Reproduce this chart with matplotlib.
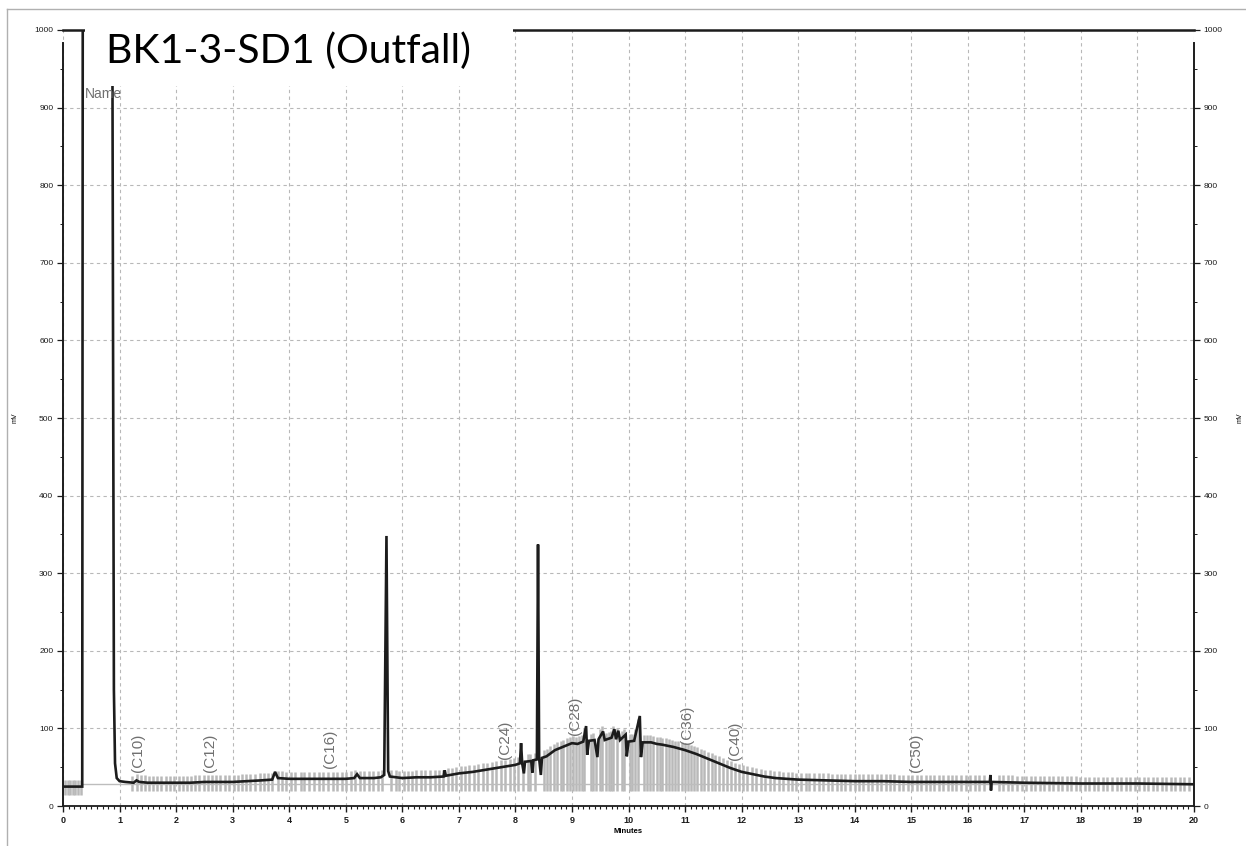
import numpy as np
import matplotlib
matplotlib.use("Agg")
from matplotlib import pyplot as plt
from matplotlib.patches import Rectangle
from matplotlib.lines import Line2D
from matplotlib.ticker import MultipleLocator

plt.rcParams['font.family'] = ['Liberation Sans', 'DejaVu Sans']

# detector trace, minutes vs mV (values above 1000 run off scale)
trace_min = [0.00, 0.34, 0.35, 0.87, 0.885, 0.90, 0.92, 0.95, 1.00, 1.10,
             1.25, 1.30, 1.35, 1.50, 1.75, 2.00, 2.25, 2.50, 2.75, 3.00,
             3.25, 3.50, 3.70, 3.75, 3.80, 4.00, 4.25, 4.50, 4.75, 5.00,
             5.15, 5.20, 5.25, 5.50, 5.62, 5.68, 5.72, 5.75, 5.78, 6.00,
             6.25, 6.50, 6.73, 6.75, 6.77, 7.00, 7.25, 7.50, 7.75, 8.00,
             8.08, 8.10, 8.12, 8.15, 8.17, 8.28, 8.30, 8.32, 8.38, 8.40,
             8.42, 8.45, 8.47, 8.55, 8.70, 8.80, 8.90, 9.00, 9.10, 9.20,
             9.25, 9.27, 9.30, 9.40, 9.45, 9.47, 9.55, 9.58, 9.70, 9.75,
             9.78, 9.82, 9.85, 9.95, 9.97, 10.00, 10.10, 10.20, 10.22, 10.25,
             10.40, 10.50, 10.60, 10.80, 11.00, 11.20, 11.40, 11.60, 11.80, 12.00,
             12.20, 12.40, 12.60, 12.80, 13.00, 13.50, 14.00, 14.50, 15.00, 16.00,
             16.39, 16.40, 16.41, 16.42, 17.00, 18.00, 19.00, 20.00]
trace_mv = [25, 25, 1100, 1100, 600, 150, 55, 36, 32, 31,
            30, 33, 31, 30, 30, 30, 30, 31, 31, 31,
            32, 33, 34, 44, 36, 35, 35, 35, 35, 35,
            36, 41, 36, 36, 37, 40, 348, 45, 38, 36,
            37, 37, 38, 46, 39, 42, 44, 47, 50, 53,
            55, 81, 55, 42, 57, 58, 43, 59, 60, 337,
            61, 40, 62, 64, 72, 75, 78, 81, 80, 83,
            103, 66, 84, 85, 63, 86, 96, 85, 88, 99,
            86, 97, 85, 92, 64, 83, 84, 116, 63, 82,
            82, 80, 79, 76, 72, 67, 61, 55, 49, 44,
            41, 38, 36, 35, 34, 33, 32, 32, 31, 31,
            31, 40, 20, 31, 30, 29, 29, 28]

# integration event marks (minutes)
event_min = [
    0.04, 0.08, 0.13, 0.18, 0.22, 0.27, 0.31,
    1.22, 1.31, 1.38, 1.45, 1.52, 1.60, 1.66, 1.74, 1.83, 1.90, 1.97,
    2.05, 2.12, 2.20, 2.26, 2.33, 2.41, 2.50, 2.57, 2.63, 2.70, 2.78, 2.86, 2.93,
    3.02, 3.10, 3.17, 3.24, 3.31, 3.40, 3.48, 3.55, 3.62, 3.70, 3.81, 3.88, 3.95,
    4.03, 4.11, 4.20, 4.27, 4.35, 4.44, 4.52, 4.60, 4.68, 4.77, 4.85, 4.93,
    5.01, 5.09, 5.17, 5.26, 5.33, 5.41, 5.49, 5.57, 5.64, 5.80, 5.88, 5.95,
    6.03, 6.10, 6.18, 6.25, 6.33, 6.41, 6.49, 6.57, 6.65, 6.72, 6.80, 6.88, 6.95,
    7.03, 7.10, 7.18, 7.26, 7.34, 7.42, 7.50, 7.58, 7.66, 7.74, 7.82, 7.90, 7.97,
    8.05, 8.13, 8.22, 8.26, 8.35, 8.50, 8.56, 8.62, 8.68, 8.74, 8.80, 8.85, 8.91, 8.96,
    9.02, 9.07, 9.12, 9.17, 9.22, 9.33, 9.38, 9.43, 9.50, 9.53, 9.60, 9.65, 9.69,
    9.73, 9.80, 9.88, 9.92,
    10.03, 10.07, 10.12, 10.16, 10.28, 10.33, 10.38, 10.44, 10.50, 10.55, 10.60,
    10.66, 10.72, 10.77, 10.83, 10.88, 10.94,
    11.00, 11.05, 11.10, 11.16, 11.22, 11.28, 11.34, 11.40, 11.47, 11.53, 11.60,
    11.67, 11.74, 11.81, 11.88, 11.95,
    12.03, 12.10, 12.18, 12.26, 12.34, 12.42, 12.50, 12.58, 12.66, 12.74, 12.82, 12.90, 12.97,
    13.05, 13.13, 13.20, 13.28, 13.36, 13.44, 13.52, 13.60, 13.68, 13.75, 13.83, 13.91,
    14.00, 14.08, 14.15, 14.23, 14.31, 14.39, 14.47, 14.55, 14.62, 14.70, 14.78, 14.86, 14.94,
    15.02, 15.10, 15.18, 15.26, 15.33, 15.41, 15.49, 15.57, 15.65, 15.72, 15.80, 15.88, 15.96,
    16.04, 16.12, 16.20, 16.28, 16.55, 16.63, 16.71, 16.79, 16.87, 16.95,
    17.03, 17.11, 17.19, 17.27, 17.35, 17.43, 17.51, 17.59, 17.67, 17.75, 17.83, 17.91, 17.99,
    18.07, 18.15, 18.23, 18.31, 18.39, 18.47, 18.55, 18.63, 18.71, 18.79, 18.87, 18.95,
    19.03, 19.11, 19.19, 19.27, 19.35, 19.43, 19.51, 19.59, 19.67, 19.75, 19.83, 19.91,
]

# carbon range markers: name, minutes, mV at bottom of label
marker_names = ['(C10)', '(C12)', '(C16)', '(C24)', '(C28)', '(C36)', '(C40)', '(C50)']
marker_min = [1.33, 2.60, 4.72, 7.82, 9.05, 11.03, 11.88, 15.08]
marker_mv = [44, 44, 49, 61, 92, 80, 59, 44]

baseline_mv = 28
title = 'BK1-3-SD1 (Outfall)'

W, H = 1246, 846
fig = plt.figure(figsize=(W / 100, H / 100), dpi=100)
ax = fig.add_axes([63 / W, 1 - 806 / H, (1194 - 63) / W, (806 - 30) / H])

dark = '#1c1c1c'

# event marks: gray drop lines around the trace
ev = np.array(event_min)
ev_top = np.interp(ev, trace_min, trace_mv) + 9
ev_bot = np.where(ev < 0.35, 14, 19)
ax.vlines(ev, ev_bot, ev_top, colors='#b9b9b9', lw=1.8, zorder=2)

ax.plot([0.35, 20], [baseline_mv, baseline_mv], color='#bdbdbd', lw=1.0, zorder=2)
ax.plot(trace_min, trace_mv, color=dark, lw=1.9, zorder=3, solid_joinstyle='miter')

for name, t, mv in zip(marker_names, marker_min, marker_mv):
    ax.text(t, mv, name, rotation=90, ha='center', va='bottom',
            fontsize=11, color='#707070', zorder=4)

ax.text(0.72, 908, 'Name', ha='center', va='bottom', fontsize=10,
        color='#707070', zorder=4)

ax.set_xlim(0, 20)
ax.set_ylim(0, 1000)
ax.xaxis.set_major_locator(MultipleLocator(1))
ax.xaxis.set_minor_locator(MultipleLocator(0.1))
ax.yaxis.set_major_locator(MultipleLocator(100))
ax.yaxis.set_minor_locator(MultipleLocator(50))

ax.grid(True, which='major', linestyle=(0, (3, 3)), color='#b8b8b8', lw=0.8)
ax.set_axisbelow(True)

ax.tick_params(axis='x', which='major', direction='out', length=4, width=1,
               labelsize=6.5, pad=3, colors=dark)
ax.tick_params(axis='x', which='minor', direction='out', length=2.5, width=0.8,
               colors=dark)
ax.tick_params(axis='y', which='both', direction='out', left=True, right=True,
               labelleft=True, labelright=True, labelsize=6, colors=dark, pad=3)
ax.tick_params(axis='y', which='major', length=4, width=0.9)
ax.tick_params(axis='y', which='minor', length=2.5, width=0.7)
for lab in ax.get_xticklabels():
    lab.set_fontweight('bold')

for side in ['left', 'right']:
    ax.spines[side].set_bounds(0, 983)
    ax.spines[side].set_color(dark)
    ax.spines[side].set_linewidth(1.4)
ax.spines['top'].set_color(dark)
ax.spines['top'].set_linewidth(1.8)
ax.spines['bottom'].set_color(dark)
ax.spines['bottom'].set_linewidth(1.3)

ax.set_xlabel('Minutes', fontsize=5.5, fontweight='bold', labelpad=2)
fig.text(15 / W, 1 - 418 / H, 'mV', rotation=90, fontsize=5, ha='center', va='center')
fig.text(1240 / W, 1 - 418 / H, 'mV', rotation=90, fontsize=5, ha='center', va='center')

# white title box over the top-left of the plot
fig.add_artist(Rectangle((85 / W, 1 - 86 / H), 428 / W, 74 / H,
                         transform=fig.transFigure, facecolor='white',
                         edgecolor='none', zorder=5))
fig.text(289 / W, 1 - 51 / H, title, fontsize=29.5, family='Lato',
         ha='center', va='center', color='black', zorder=6)

# page frame
fig.add_artist(Line2D([7 / W, 1], [1 - 9 / H, 1 - 9 / H], transform=fig.transFigure,
                      color='#b0b0b0', lw=1.0))
fig.add_artist(Line2D([7 / W, 7 / W], [0, 1 - 9 / H], transform=fig.transFigure,
                      color='#b0b0b0', lw=1.0))

fig.savefig('out.png', dpi=100)
